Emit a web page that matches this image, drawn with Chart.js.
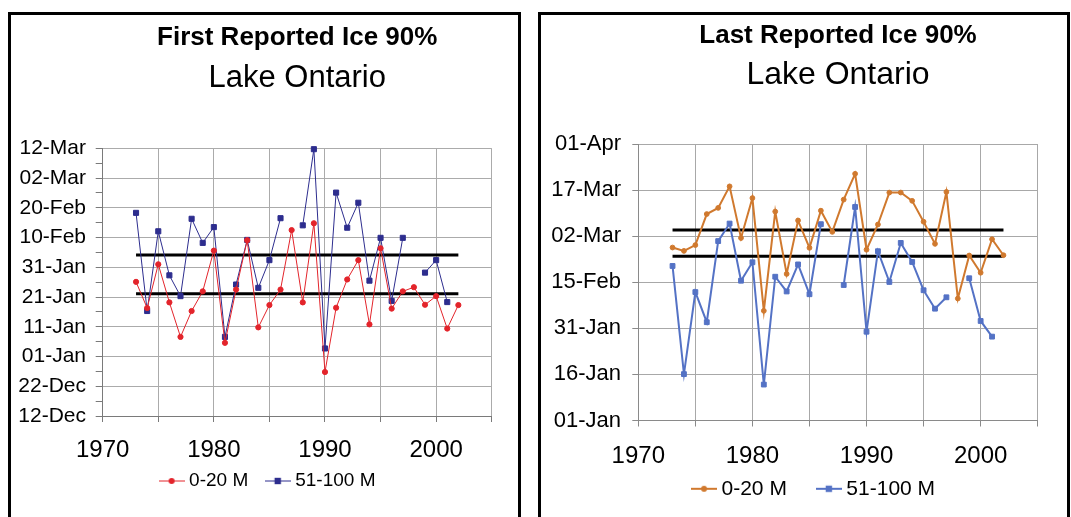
<!DOCTYPE html>
<html>
<head>
<meta charset="utf-8">
<title>Lake Ontario - Reported Ice 90%</title>
<script src="https://cdn.jsdelivr.net/npm/chart.js@4.4.1/dist/chart.umd.min.js"></script>
<style>
  html, body { margin: 0; padding: 0; background: #fff; overflow: hidden; }
  .box { position: absolute; top: 12px; height: 502px; border: 3px solid #000; border-bottom: none; background: #fff; }
  #boxFirst { left: 8px; width: 507px; }
  #boxLast { left: 538px; width: 526px; }
  canvas { display: block; }
</style>
</head>
<body>
<div class="box" id="boxFirst"><canvas id="firstChart" width="507" height="502"></canvas></div>
<div class="box" id="boxLast"><canvas id="lastChart" width="526" height="502"></canvas></div>
<script>
// ---------- DATA ----------
const years = [1973, 1974, 1975, 1976, 1977, 1978, 1979, 1980, 1981, 1982,
               1983, 1984, 1985, 1986, 1987, 1988, 1989, 1990, 1991, 1992,
               1993, 1994, 1995, 1996, 1997, 1998, 1999, 2000, 2001, 2002];
const decadeLabels = [1970, 1980, 1990, 2000];
const seriesNames = ["0-20 M", "51-100 M"];
const meanSpan = [1973, 2002];

// y values are days counted from 01-Jan (negative = December)
const firstTickDays = [-20, -10, 0, 10, 20, 30, 40, 50, 60, 70];
const firstTickLabels = ["12-Dec", "22-Dec", "01-Jan", "11-Jan", "21-Jan", "31-Jan", "10-Feb", "20-Feb", "02-Mar", "12-Mar"];
const firstShallow = [25.1, 16.3, 31.0, 18.2, 6.6, 15.3, 21.9, 35.6, 4.6, 22.5,
                      39.1, 9.8, 17.3, 22.5, 42.5, 18.2, 44.8, -5.2, 16.4, 25.9,
                      32.4, 10.8, 36.4, 16.1, 21.9, 23.3, 17.4, 20.3, 9.4, 17.3];
const firstDeep = [48.3, 15.3, 42.1, 27.3, 20.3, 46.3, 38.2, 43.5, 6.6, 24.2,
                   39.2, 23.1, 32.4, 46.5, null, 44.1, 69.7, 2.7, 55.1, 43.3,
                   51.7, 25.5, 39.9, 18.7, 39.9, null, 28.2, 32.4, 18.3, null];
const firstMeans = [34.1, 21.1];

const lastTickDays = [0, 15, 30, 45, 60, 75, 90];
const lastTickLabels = ["01-Jan", "16-Jan", "31-Jan", "15-Feb", "02-Mar", "17-Mar", "01-Apr"];
const lastShallow = [56.3, 55.2, 57.1, 67.2, 69.2, 76.2, 59.4, 72.4, 35.7, 68.0,
                     47.7, 65.1, 56.2, 68.3, 61.4, 71.9, 80.3, 55.6, 63.8, 74.2,
                     74.2, 71.5, 64.7, 57.5, 74.4, 39.7, 53.7, 48.1, 59.0, 53.8];
const lastDeep = [50.3, 15.1, 41.8, 32.0, 58.4, 64.1, 45.5, 51.5, 11.7, 46.8,
                  42.0, 50.8, 41.1, 63.9, null, 44.1, 69.5, 28.9, 55.1, 45.1,
                  57.8, 51.6, 42.4, 36.4, 40.1, null, 46.3, 32.4, 27.3, null];
const lastMeans = [62.0, 53.5];

// ---------- HELPERS ----------
Chart.defaults.font.family = "'Liberation Sans', Arial, sans-serif";
Chart.defaults.color = "#000";

function toPoints(values) {
  return years.map((year, i) => ({ x: year, y: values[i] }));
}

function meanLine(value) {
  return meanSpan.map(year => ({ x: year, y: value }));
}

// little "line + marker" picture for the legend, like Excel draws it
function legendIcon(color, marker, lineWidth, size) {
  const c = document.createElement("canvas");
  c.width = 26;
  c.height = 12;
  const g = c.getContext("2d");
  g.strokeStyle = color;
  g.fillStyle = color;
  g.lineWidth = lineWidth;
  g.beginPath();
  g.moveTo(0, 6);
  g.lineTo(26, 6);
  g.stroke();
  if (marker === "circle") {
    g.beginPath();
    g.arc(13, 6, size, 0, Math.PI * 2);
    g.fill();
  } else {
    g.fillRect(13 - size, 6 - size, size * 2, size * 2);
  }
  return c;
}

// nudge the legend box after layout so it can sit right under the year labels
// (the legend clips to its own box, so the box is stretched down to the canvas bottom)
const legendOffset = {
  id: "legendOffset",
  afterLayout(chart, args, opts) {
    const legend = chart.legend;
    legend.left += opts.dx;
    legend.right += opts.dx;
    legend.top += opts.dy;
    legend.bottom = chart.height;
  }
};

function makeChart(canvasId, s) {
  const icons = [
    legendIcon(s.colors[0], "circle", s.lineWidth, 3),
    legendIcon(s.colors[1], "rect", s.lineWidth, 3.2)
  ];
  const lastDay = s.days[s.days.length - 1];

  return new Chart(document.getElementById(canvasId), {
    type: "line",
    plugins: [legendOffset],
    data: {
      datasets: [
        {
          label: seriesNames[0],
          data: toPoints(s.shallow),
          borderColor: s.colors[0],
          backgroundColor: s.colors[0],
          borderWidth: s.lineWidth,
          pointStyle: "circle",
          pointRadius: s.circleR,
          pointBorderWidth: 1,
          clip: false
        },
        {
          label: seriesNames[1],
          data: toPoints(s.deep),
          borderColor: s.colors[1],
          backgroundColor: s.colors[1],
          borderWidth: s.lineWidth,
          pointStyle: "rect",
          pointRadius: s.rectR,
          pointBorderWidth: 1,
          clip: false
        },
        { label: "mean", data: meanLine(s.means[0]), borderColor: "#000", borderWidth: 3, pointRadius: 0 },
        { label: "mean", data: meanLine(s.means[1]), borderColor: "#000", borderWidth: 3, pointRadius: 0 }
      ]
    },
    options: {
      animation: false,
      responsive: false,
      events: [],
      layout: { padding: s.padding },
      scales: {
        x: {
          type: "linear",
          min: 1970,
          max: 2005,
          afterFit: scale => { scale.height = s.xHeight; },
          ticks: {
            stepSize: 5,
            autoSkip: false,
            maxRotation: 0,
            padding: s.xPad,
            font: { size: 24 },
            callback: v => (decadeLabels.includes(v) ? String(v) : "")
          },
          grid: { color: s.grid, tickColor: s.axis, tickLength: 6 },
          border: { color: s.axis }
        },
        y: {
          min: s.days[0],
          max: lastDay,
          afterFit: scale => { scale.width = s.yWidth; },
          ticks: {
            stepSize: s.step,
            autoSkip: false,
            padding: s.yPad,
            font: { size: s.yFont },
            callback: v => {
              const i = s.days.indexOf(v);
              return i < 0 ? "" : s.labels[i];
            }
          },
          grid: {
            color: ctx => (s.days.includes(ctx.tick.value) ? s.grid : "rgba(0,0,0,0)"),
            tickColor: s.axis,
            tickLength: s.yTick
          },
          border: { color: s.axis }
        }
      },
      plugins: {
        title: {
          display: true,
          text: s.title,
          fullSize: false,
          color: "#000",
          font: { size: 26, weight: "bold" },
          padding: s.titlePad
        },
        subtitle: {
          display: true,
          text: "Lake Ontario",
          fullSize: false,
          color: "#000",
          font: { size: s.subFont, weight: "normal" },
          padding: s.subPad
        },
        legend: {
          position: "bottom",
          maxHeight: 20,
          labels: {
            usePointStyle: true,
            pointStyleWidth: s.legendBox,
            padding: s.legendPad,
            color: "#000",
            font: { size: s.legendFont },
            generateLabels: chart =>
              Chart.defaults.plugins.legend.labels.generateLabels(chart)
                .filter(item => item.datasetIndex < 2)
                .map(item => ({ ...item, pointStyle: icons[item.datasetIndex] }))
          }
        },
        legendOffset: s.legendShift,
        tooltip: { enabled: false }
      }
    }
  });
}

// ---------- FIRST REPORTED ----------
makeChart("firstChart", {
  title: "First Reported Ice 90%",
  shallow: firstShallow,
  deep: firstDeep,
  means: firstMeans,
  days: firstTickDays,
  labels: firstTickLabels,
  step: 5,
  colors: ["#E3242B", "#2D2D8E"],
  lineWidth: 1,
  circleR: 2.6,
  rectR: 3.6,
  grid: "#ababab",
  axis: "#7a7a7a",
  padding: { left: 2, right: 26.3, top: 0, bottom: 31 },
  yWidth: 89.7,
  yPad: 9.7,
  yTick: 7,
  yFont: 21,
  xHeight: 50,
  xPad: 13.6,
  titlePad: { top: 7, bottom: 0 },
  subFont: 31,
  subPad: { top: 6.6, bottom: 51.3 },
  legendFont: 19,
  legendBox: 16,
  legendPad: 21.5,
  legendShift: { dx: 17.2, dy: -16 }
});

// ---------- LAST REPORTED ----------
makeChart("lastChart", {
  title: "Last Reported Ice 90%",
  shallow: lastShallow,
  deep: lastDeep,
  means: lastMeans,
  days: lastTickDays,
  labels: lastTickLabels,
  step: 15,
  colors: ["#D0792E", "#5472C5"],
  lineWidth: 2,
  circleR: 2.4,
  rectR: 3.4,
  grid: "#a8a8a8",
  axis: "#8a8a8a",
  padding: { left: 2, right: 29.3, top: 0, bottom: 26.5 },
  yWidth: 95.3,
  yPad: 11.3,
  yTick: 6,
  yFont: 22,
  xHeight: 50,
  xPad: 15.1,
  titlePad: { top: 5.4, bottom: 0 },
  subFont: 32,
  subPad: { top: 4.2, bottom: 49.8 },
  legendFont: 21,
  legendBox: 14,
  legendPad: 35,
  legendShift: { dx: 25.7, dy: -27.2 }
});
</script>
</body>
</html>
